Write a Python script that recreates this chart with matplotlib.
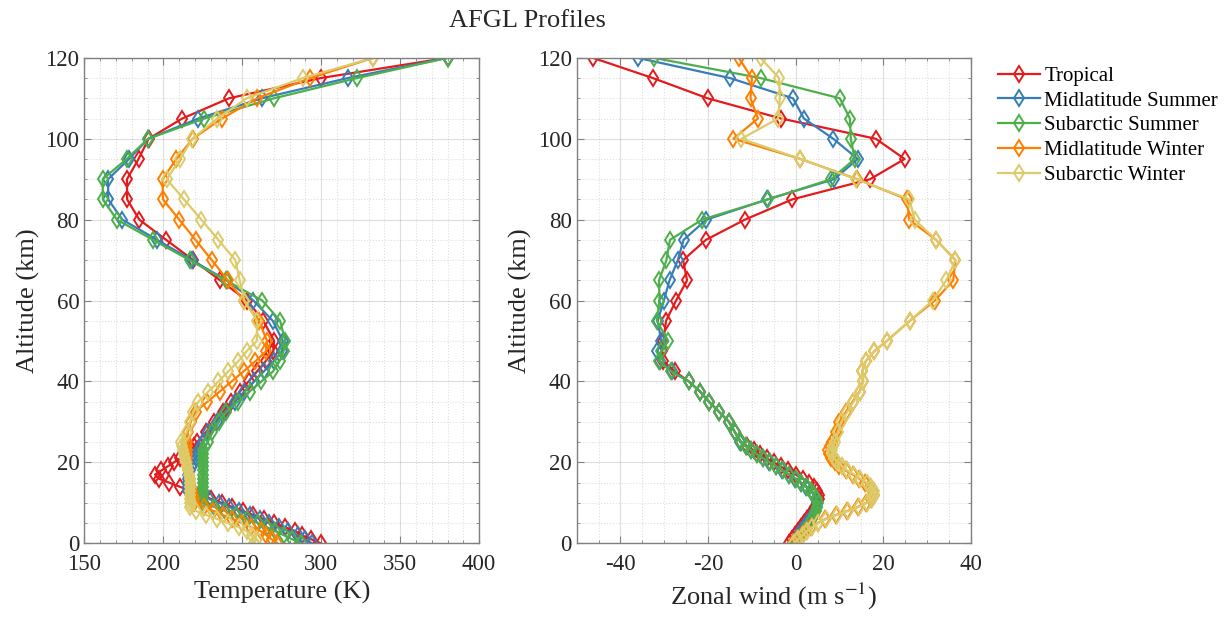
import numpy as np
import matplotlib
matplotlib.use("Agg")
import matplotlib.pyplot as plt
from matplotlib.ticker import MultipleLocator

plt.rcParams['font.family'] = ['Liberation Serif', 'DejaVu Serif']
plt.rcParams['mathtext.fontset'] = 'stix'
plt.rcParams['axes.unicode_minus'] = False

# altitude levels of the AFGL grid (km)
altitude = [0, 1, 2, 3, 4, 5, 6, 7, 8, 9, 10, 11, 12, 13, 14, 15, 16, 17, 18, 19,
            20, 21, 22, 23, 24, 25, 27.5, 30, 32.5, 35, 37.5, 40, 42.5, 45, 47.5, 50,
            55, 60, 65, 70, 75, 80, 85, 90, 95, 100, 105, 110, 115, 120]

names = ['Tropical', 'Midlatitude Summer', 'Subarctic Summer',
         'Midlatitude Winter', 'Subarctic Winter']
colors = ['#e41a1c', '#377eb8', '#4daf4a', '#ff7f00', '#dccb6a']

# temperature (K)
t_trop = [299.7, 293.7, 287.7, 283.7, 277.0, 270.3, 263.6, 257.0, 250.3, 243.6,
          237.0, 230.1, 223.6, 217.0, 210.3, 203.7, 197.0, 194.8, 198.8, 202.7,
          206.7, 210.7, 214.6, 217.0, 219.2, 221.4, 227.0, 232.3, 237.7, 243.1,
          248.5, 254.0, 259.4, 264.8, 269.6, 270.2, 263.4, 253.1, 236.0, 218.9,
          201.8, 184.8, 177.1, 177.0, 184.3, 190.7, 212.0, 241.6, 299.7, 380.0]
t_mls = [294.2, 289.7, 285.2, 279.2, 273.2, 267.2, 261.2, 254.7, 248.2, 241.7,
         235.3, 228.8, 222.3, 215.8, 215.7, 215.7, 215.7, 215.7, 216.8, 217.9,
         219.2, 220.4, 221.6, 222.8, 223.9, 225.1, 228.5, 233.7, 239.0, 245.2,
         251.3, 257.5, 263.7, 269.9, 275.2, 275.7, 269.3, 257.1, 240.1, 218.1,
         196.1, 174.1, 165.1, 165.0, 178.3, 190.5, 222.2, 262.4, 316.8, 380.0]
t_sas = [287.2, 281.7, 276.3, 270.9, 265.5, 260.1, 253.1, 246.1, 239.2, 232.2,
         225.2, 225.2, 225.2, 225.2, 225.2, 225.2, 225.2, 225.2, 225.2, 225.2,
         225.2, 225.2, 225.2, 225.2, 226.6, 228.1, 231.0, 235.1, 240.0, 247.2,
         254.6, 262.1, 269.5, 273.6, 276.2, 277.2, 274.0, 262.7, 239.7, 216.6,
         193.6, 170.6, 161.7, 161.6, 176.8, 190.4, 226.0, 270.1, 322.7, 380.0]
t_mlw = [272.2, 268.7, 265.2, 261.7, 255.7, 249.7, 243.7, 237.7, 231.7, 225.7,
         219.7, 219.2, 218.7, 218.2, 217.7, 217.2, 216.7, 216.2, 215.7, 215.2,
         215.2, 215.2, 215.2, 215.2, 215.2, 215.2, 215.5, 217.4, 220.4, 227.9,
         235.7, 243.2, 250.8, 258.3, 265.1, 265.7, 260.6, 250.8, 240.9, 230.7,
         220.4, 210.1, 199.8, 199.5, 208.3, 218.6, 237.1, 259.5, 293.0, 333.0]
t_saw = [257.2, 259.1, 255.9, 252.7, 247.7, 240.9, 234.1, 227.3, 220.6, 217.2,
         217.2, 217.2, 217.2, 217.2, 217.2, 217.2, 216.6, 216.0, 215.4, 214.8,
         214.2, 213.6, 213.0, 212.4, 211.8, 211.2, 214.8, 216.9, 219.0, 222.2,
         228.5, 234.9, 241.2, 247.5, 252.8, 259.2, 259.4, 251.3, 248.4, 245.6,
         234.9, 224.1, 213.1, 202.2, 210.6, 218.4, 234.2, 252.8, 288.3, 333.0]

# zonal wind (m/s)
u_trop = [-1.4, -0.8, -0.1, 0.6, 1.3, 2.0, 2.7, 3.3, 3.9, 4.4,
          4.9, 5.3, 5.3, 4.9, 4.1, 3.0, 1.6, 0.0, -1.7, -3.4,
          -5.0, -6.6, -8.1, -9.6, -11.0, -12.4, -13.9, -15.2, -17.5, -19.8,
          -21.8, -24.4, -27.6, -30.2, -30.5, -30.2, -29.6, -27.3, -24.8, -25.7,
          -20.5, -11.6, -0.8, 17.0, 24.9, 18.3, -3.3, -20.1, -32.6, -46.3]
u_mls = [-0.6, 0.0, 0.6, 1.3, 2.0, 2.7, 3.3, 3.9, 4.4, 4.8,
         4.9, 4.7, 4.2, 3.4, 2.4, 1.2, -0.1, -1.5, -3.0, -4.5,
         -6.0, -7.5, -8.9, -10.2, -11.4, -12.6, -13.9, -15.2, -17.5, -19.8,
         -21.8, -24.4, -28.2, -31.0, -31.6, -30.7, -31.5, -30.1, -28.8, -26.9,
         -25.6, -20.4, -6.5, 8.8, 14.2, 8.6, 1.9, -0.6, -15.0, -36.1]
u_sas = [0.2, 0.8, 1.4, 2.0, 2.6, 3.2, 3.7, 4.2, 4.6, 4.9,
         5.0, 4.8, 4.3, 3.5, 2.5, 1.3, 0.0, -1.4, -2.9, -4.4,
         -5.9, -7.4, -8.8, -10.1, -11.3, -12.5, -13.9, -15.2, -17.5, -19.8,
         -21.8, -24.4, -28.5, -31.2, -30.7, -29.1, -31.7, -31.1, -31.2, -29.5,
         -28.7, -21.4, -6.3, 8.1, 13.5, 12.6, 12.4, 10.1, -8.0, -32.4]
u_mlw = [-0.6, 0.4, 1.4, 2.4, 3.6, 5.0, 6.8, 9.2, 11.8, 14.2,
         16.1, 17.2, 17.8, 17.7, 17.0, 15.9, 14.5, 13.0, 11.4, 10.0,
         8.9, 8.1, 7.6, 7.5, 7.8, 8.3, 9.2, 10.0, 11.5, 13.0,
         14.6, 15.4, 15.2, 16.0, 18.0, 20.8, 26.1, 31.8, 36.0, 36.5,
         32.1, 25.9, 25.5, 14.1, 1.1, -14.2, -8.6, -10.3, -10.0, -13.0]
u_saw = [-0.4, 0.6, 1.6, 2.6, 3.8, 5.2, 7.0, 9.4, 12.0, 14.4,
         16.3, 17.4, 18.0, 17.9, 17.2, 16.2, 14.8, 13.4, 11.8, 10.5,
         9.5, 8.8, 8.4, 8.3, 8.5, 8.9, 9.7, 10.4, 11.8, 13.2,
         14.7, 15.5, 15.2, 16.0, 18.0, 20.8, 26.1, 31.3, 34.4, 36.5,
         32.1, 27.2, 26.0, 13.9, 1.1, -12.4, -4.0, -3.6, -3.8, -8.0]

temps = [t_trop, t_mls, t_sas, t_mlw, t_saw]
winds = [u_trop, u_mls, u_sas, u_mlw, u_saw]

txt = '#262626'
fig = plt.figure(figsize=(12.26, 6.2), dpi=100)
ax1 = fig.add_axes([0.0688, 0.1237, 0.322, 0.783])
ax2 = fig.add_axes([0.4704, 0.1237, 0.3214, 0.783])

for name, col, t, u in zip(names, colors, temps, winds):
    kw = dict(color=col, lw=1.6, marker='d', ms=8, mfc='none', mew=1.4)
    ax1.plot(t, altitude, label=name, **kw)
    ax2.plot(u, altitude, **kw)

ax1.set_xlim(150, 400)
ax1.xaxis.set_major_locator(MultipleLocator(50))
ax1.xaxis.set_minor_locator(MultipleLocator(10))
ax1.set_xlabel('Temperature (K)', fontsize=19, color=txt)

ax2.set_xlim(-50, 40)
ax2.xaxis.set_major_locator(MultipleLocator(20))
ax2.xaxis.set_minor_locator(MultipleLocator(5))
ax2.set_xlabel('Zonal wind (m s$^{-1}$)', fontsize=19, color=txt)

for ax in (ax1, ax2):
    ax.set_ylim(0, 120)
    ax.yaxis.set_major_locator(MultipleLocator(20))
    ax.yaxis.set_minor_locator(MultipleLocator(5))
    ax.set_ylabel('Altitude (km)', fontsize=19, color=txt, labelpad=4)
    ax.grid(which='major', color='#262626', alpha=0.15, lw=0.8, ls='-')
    ax.grid(which='minor', color='#262626', alpha=0.15, lw=0.8, ls=':')
    ax.set_axisbelow(True)
    ax.tick_params(which='both', direction='in', top=True, right=True,
                   colors='#808080', labelcolor=txt, labelsize=16.5)
    ax.tick_params(which='major', length=5)
    ax.tick_params(which='minor', length=2.5)
    ax.tick_params(axis='x', pad=8)
    for s in ax.spines.values():
        s.set_color('#808080')
        s.set_linewidth(1.0)

fig.text(527 / 1226, 1 - 21 / 620, 'AFGL Profiles', ha='center', va='center',
         fontsize=19, color=txt)

fig.legend(*ax1.get_legend_handles_labels(), loc='upper left',
           bbox_to_anchor=(990 / 1226, 1 - 58 / 620), frameon=False,
           fontsize=15, handlelength=2.0, handletextpad=0.2, labelspacing=0.25,
           borderaxespad=0)

fig.savefig('out.png', dpi=100, facecolor='white')
